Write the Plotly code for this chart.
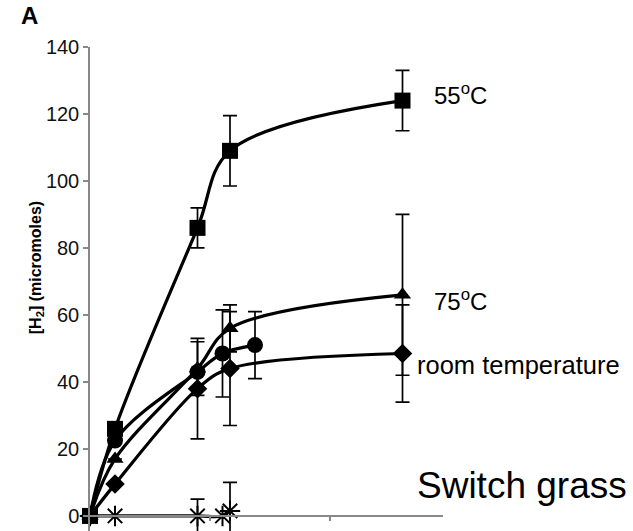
import plotly.graph_objects as go

# time points (hours) and series values
x_55 = [0, 5, 21.5, 28, 62.5]
y_55 = [0, 26, 86, 109, 124]
e_55 = [0, 0, 6, 10.5, 9]

x_75 = [0, 5, 21.5, 28, 62.5]
y_75 = [0, 17, 44, 56, 66]
e_75 = [0, 0, 8, 7, 24]

x_circ = [0, 5, 21.5, 26.5, 33]
y_circ = [0, 22.5, 43, 48.5, 51]
e_circ = [0, 0, 0, 13, 10]

x_rt = [0, 5, 21.5, 28, 62.5]
y_rt = [0, 9.5, 38, 44, 48.5]
e_rt = [0, 0, 15, 17, 14.5]

x_star = [0, 5, 21.5, 26.5, 28]
y_star = [0, 0, 0, 0, 1.5]
e_star = [0, 0, 5, 0, 8.5]

y_ticks = [0, 20, 40, 60, 80, 100, 120, 140]
x_ticks = [24, 48]

FONT = "Liberation Sans, Arial, sans-serif"
Y_MIN, Y_MAX = -4.5, 140

def series(x, y, e, symbol, size, name, mline=0):
    return go.Scatter(
        x=x, y=y, name=name, mode="lines+markers",
        line=dict(color="black", width=3.2, shape="spline", smoothing=1),
        marker=dict(symbol=symbol, size=size, color="black",
                    line=dict(color="black", width=mline)),
        error_y=dict(type="data", array=e, visible=True, color="black",
                     thickness=1.7, width=7),
        cliponaxis=False, showlegend=False,
    )

fig = go.Figure()
fig.add_trace(series(x_star, y_star, e_star, "asterisk-open", 17, "control", 2))
fig.add_trace(series(x_rt, y_rt, e_rt, "diamond", 15, "room temperature"))
fig.add_trace(series(x_circ, y_circ, e_circ, "circle", 16, "circle"))
fig.add_trace(series(x_75, y_75, e_75, "triangle-up", 15, "75oC"))
fig.add_trace(series(x_55, y_55, e_55, "square", 16, "55oC"))

ann = [
    dict(x=68.4, y=126, text="55<sup>o</sup>C", font=dict(size=24)),
    dict(x=68.4, y=64.5, text="75<sup>o</sup>C", font=dict(size=24)),
    dict(x=65, y=45, text="room temperature", font=dict(size=25.5)),
    dict(x=65, y=9, text="Switch grass", font=dict(size=37)),
]
annotations = []
for a in ann:
    a.update(xref="x", yref="y", xanchor="left", yanchor="middle",
             showarrow=False)
    a["font"].update(color="black", family=FONT)
    annotations.append(a)
annotations.append(dict(x=-0.2, y=1.065, xref="paper", yref="paper",
                        text="<b>A</b>", showarrow=False, xanchor="left",
                        yanchor="middle",
                        font=dict(size=24, color="black", family=FONT)))
annotations.append(dict(x=-0.153, y=0.545, xref="paper", yref="paper",
                        text="<b>[H<sub>2</sub>] (micromoles)</b>",
                        textangle=-90, showarrow=False,
                        xanchor="center", yanchor="middle",
                        font=dict(size=16, color="black", family=FONT)))

fig.update_layout(
    width=633, height=531,
    margin=dict(l=90, r=190, t=47, b=0),
    paper_bgcolor="white", plot_bgcolor="white",
    font=dict(family=FONT, color="black"),
    annotations=annotations,
    xaxis=dict(range=[0, 70.6], tickvals=x_ticks, showticklabels=False,
               ticks="outside", ticklen=4, tickcolor="#888", tickwidth=1.5,
               showline=True, linecolor="#888", linewidth=1.5,
               showgrid=False, zeroline=False,
               anchor="free", position=(0 - Y_MIN) / (Y_MAX - Y_MIN)),
    yaxis=dict(range=[Y_MIN, Y_MAX], tickvals=y_ticks,
               ticks="outside", ticklen=5, tickcolor="#888", tickwidth=1.5,
               showline=True, linecolor="#888", linewidth=1.5,
               showgrid=False, zeroline=False,
               tickfont=dict(size=20, color="#111", family=FONT)),
)

fig.write_html("out.html")
